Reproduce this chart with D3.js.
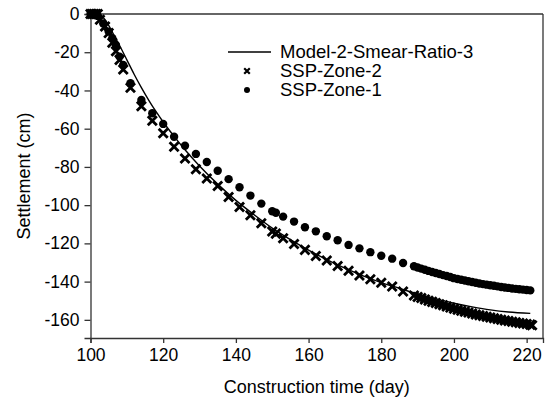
<!DOCTYPE html>
<html>
<head>
<meta charset="utf-8">
<script src="https://cdn.jsdelivr.net/npm/d3@7"></script>
<style>
  body { margin: 0; background: #fff; }
  svg { font-family: "Liberation Sans", Arial, sans-serif; }
  .axis text { font-size: 17.5px; fill: #000; }
  .axis path, .axis line { stroke: #333; stroke-width: 1.3; }
  .axis-label { font-size: 18px; fill: #000; }
  .legend text { font-size: 18.5px; fill: #000; }
</style>
</head>
<body>
<svg id="chart"></svg>
<script>
// Model-2-Smear-Ratio-3 curve [day, settlement]
const modelCurve = [
  [100, 0], [102, 0], [103, -1], [104, -3], [105, -6], [106, -9.5], [107, -13], [108, -16.5],
  [110, -24], [112, -31.5], [114, -38.5], [116, -45], [118, -51], [120, -56.5], [123, -64],
  [126, -71], [130, -79.5], [135, -89], [140, -97.5], [145, -105], [150, -112], [155, -118],
  [160, -123.5], [165, -128.5], [170, -133], [175, -137], [180, -140.5], [185, -143.5],
  [190, -146.5], [195, -149], [200, -151.3], [205, -153.2], [210, -154.8], [215, -155.9], [221, -156.6]
];

// SSP-Zone-2 (x markers)
const zone2 = [
  [100, 0], [100.5, 0], [101, 0], [101.5, 0], [102, 0], [102.6, -3], [104, -6.5], [105, -10],
  [106, -15], [107, -19.5], [108, -24], [109, -29], [111, -38.6], [114, -48.3], [117, -55.8],
  [120, -62.4], [123, -69.4], [126, -75.6], [129, -81.2], [132, -86.1], [135, -90], [138, -95.7],
  [141, -101], [144, -105.3], [147, -109.5], [150, -113.8], [151, -114.9], [153, -117.3],
  [156, -120.3], [159, -123.4], [162, -126.6], [165, -129], [168, -131.8], [171, -134.3],
  [174, -136.8], [177, -138.8], [180, -140.6], [183, -142.6], [186, -145.2],
  [189, -147.3], [190, -148], [191, -148.6], [192, -149.3], [193, -150], [194, -150.6],
  [195, -151.2], [196, -151.8], [197, -152.4], [198, -153], [199, -153.6], [200, -154.2],
  [201, -154.7], [202, -155.2], [203, -155.7], [204, -156.2], [205, -156.7], [206, -157.2],
  [207, -157.6], [208, -158], [209, -158.4], [210, -158.8], [211, -159.2], [212, -159.6],
  [213, -160], [214, -160.3], [215, -160.6], [216, -161], [217, -161.3], [218, -161.6],
  [219, -161.9], [220, -162.2], [221, -162.5], [221.5, -162.8]
];

// SSP-Zone-1 (dots)
const zone1 = [
  [100, 0], [100.5, 0], [101, 0], [101.5, 0], [102, -1], [103.5, -5], [105, -9.2], [106, -12.7],
  [107, -16.2], [108, -22.3], [109, -26.6], [111, -36.2], [114, -45], [117, -51.9], [120, -57.5],
  [123, -64.2], [126, -68.9], [129, -73.2], [132, -77.4], [135, -82], [138, -86.4], [141, -90.6],
  [144, -95], [147, -99.2], [150, -103.2], [151, -104], [153, -106], [156, -108.6], [159, -111.6],
  [162, -113.7], [165, -116.3], [168, -118.4], [171, -120.8], [174, -122.6], [177, -124.6],
  [180, -126.5], [183, -128], [186, -130.3],
  [189, -132], [190, -132.6], [191, -133.2], [192, -133.8], [193, -134.4], [194, -135],
  [195, -135.5], [196, -136], [197, -136.6], [198, -137.1], [199, -137.6], [200, -138.2],
  [201, -138.6], [202, -139], [203, -139.4], [204, -139.8], [205, -140.2], [206, -140.6],
  [207, -141], [208, -141.3], [209, -141.6], [210, -141.9], [211, -142.2], [212, -142.5],
  [213, -142.8], [214, -143.1], [215, -143.3], [216, -143.6], [217, -143.8], [218, -144],
  [219, -144.2], [220, -144.4], [221, -144.6]
];

const xTicks = [100, 120, 140, 160, 180, 200, 220];
const yTicks = [0, -20, -40, -60, -80, -100, -120, -140, -160];
const legendLabels = ['Model-2-Smear-Ratio-3', 'SSP-Zone-2', 'SSP-Zone-1'];

const width = 549, height = 399;
const margin = { top: 14, right: 6, bottom: 61, left: 90.5 };
const innerW = width - margin.left - margin.right;
const innerH = height - margin.top - margin.bottom;

const svg = d3.select('#chart').attr('width', width).attr('height', height);
const g = svg.append('g').attr('transform', `translate(${margin.left},${margin.top})`);

const x = d3.scaleLinear().domain([100, 224.5]).range([0, innerW]);
const y = d3.scaleLinear().domain([-169.5, 0]).range([innerH, 0]);

// axes (plain hyphen for negatives, like the original)
g.append('g')
    .attr('class', 'axis x-axis')
    .attr('transform', `translate(0,${innerH})`)
    .call(d3.axisBottom(x).tickValues(xTicks).tickSizeOuter(0).tickSize(5).tickPadding(6)
        .tickFormat(d => String(d)));

g.append('g')
    .attr('class', 'axis y-axis')
    .call(d3.axisLeft(y).tickValues(yTicks).tickSizeOuter(0).tickSize(6).tickPadding(5)
        .tickFormat(d => String(d)));

// frame top and right
g.append('line').attr('x1', 0).attr('x2', innerW).attr('y1', 0).attr('y2', 0)
    .attr('stroke', '#333').attr('stroke-width', 1.3);
g.append('line').attr('x1', innerW).attr('x2', innerW).attr('y1', 0).attr('y2', innerH)
    .attr('stroke', '#333').attr('stroke-width', 1.3);

// axis labels
svg.append('text')
    .attr('class', 'axis-label')
    .attr('x', margin.left + innerW / 2)
    .attr('y', 393)
    .attr('text-anchor', 'middle')
    .text('Construction time (day)');

svg.append('text')
    .attr('class', 'axis-label')
    .attr('transform', `translate(30,${margin.top + innerH / 2}) rotate(-90)`)
    .attr('text-anchor', 'middle')
    .text('Settlement (cm)');

// model line
const line = d3.line()
    .x(d => x(d[0]))
    .y(d => y(d[1]))
    .curve(d3.curveMonotoneX);

g.append('path')
    .datum(modelCurve)
    .attr('d', line)
    .attr('fill', 'none')
    .attr('stroke', '#000')
    .attr('stroke-width', 1.4);

// x markers
const cross = d3.symbol().type(d3.symbolX).size(55);
g.append('g').selectAll('path')
    .data(zone2)
  .join('path')
    .attr('d', cross)
    .attr('transform', d => `translate(${x(d[0])},${y(d[1])})`)
    .attr('fill', 'none')
    .attr('stroke', '#000')
    .attr('stroke-width', 2.8);

// dots
g.append('g').selectAll('circle')
    .data(zone1)
  .join('circle')
    .attr('cx', d => x(d[0]))
    .attr('cy', d => y(d[1]))
    .attr('r', 4.2)
    .attr('fill', '#000');

// legend
const legend = svg.append('g').attr('class', 'legend').attr('transform', 'translate(228,52)');
legend.append('line').attr('x1', 0).attr('x2', 43).attr('y1', 0).attr('y2', 0)
    .attr('stroke', '#000').attr('stroke-width', 1.4);
legend.append('path').attr('d', d3.symbol().type(d3.symbolX).size(22))
    .attr('transform', 'translate(19,19)')
    .attr('fill', 'none').attr('stroke', '#000').attr('stroke-width', 2.2);
legend.append('circle').attr('cx', 19).attr('cy', 38).attr('r', 3).attr('fill', '#000');
legend.selectAll('text')
    .data(legendLabels)
  .join('text')
    .attr('x', 52)
    .attr('y', (d, i) => i * 19)
    .attr('dy', '0.35em')
    .text(d => d);
</script>
</body>
</html>
